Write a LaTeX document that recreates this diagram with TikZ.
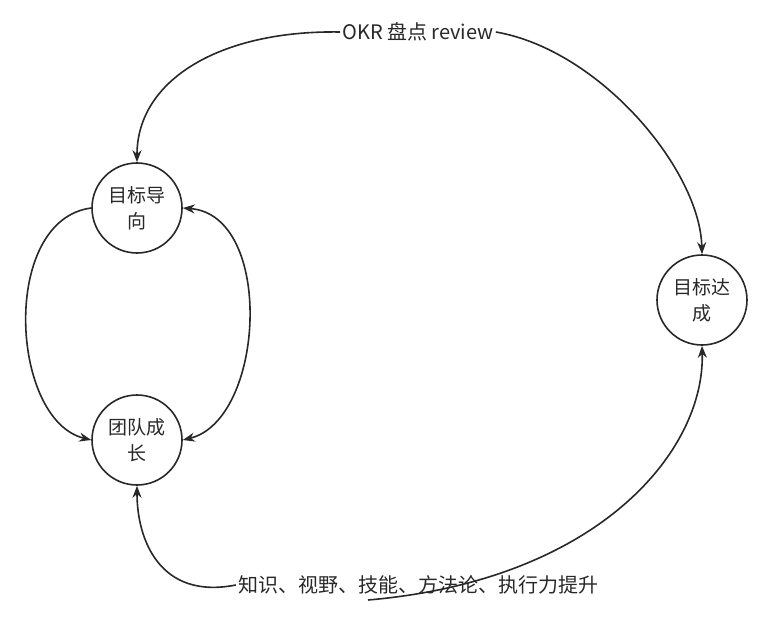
\documentclass[tikz,border=0pt]{standalone}
\usepackage{fontspec}
\setmainfont{Noto Sans CJK SC}
\usetikzlibrary{arrows.meta}
\definecolor{ink}{RGB}{40,40,40}
\begin{document}
\begin{tikzpicture}[x=1pt,y=-1pt,
  circ/.style={circle,draw=ink,line width=1.6pt,minimum size=90pt,inner sep=0pt,align=center,font=\fontsize{19}{26}\selectfont,text=ink},
  lab/.style={font=\fontsize{20}{24}\selectfont,inner sep=2pt,text=ink},
  arr/.style={draw=ink,line width=1.6pt,-{Stealth[length=12pt,width=9pt]}},
  darr/.style={draw=ink,line width=1.6pt,{Stealth[length=12pt,width=9pt]}-{Stealth[length=12pt,width=9pt]}}]
\useasboundingbox (0,0) rectangle (771,623);
\node[circ] (g) at (137,208) {目标导\\向};
\node[circ] (t) at (137,440) {团队成\\长};
\node[circ] (d) at (702,300) {目标达\\成};
\node[lab] (okr) at (418,32) {OKR 盘点 review};
\node[lab] (sk) at (418,585) {知识、视野、技能、方法论、执行力提升};
\coordinate (sk2) at (368,600);
\draw[arr] (okr.west) .. controls (220,30) and (137,80) .. (g.north);
\draw[arr] (okr.east) .. controls (600,50) and (700,170) .. (d.north);
\draw[arr] (sk.west) .. controls (160,600) and (137,540) .. (t.south);
\draw[arr] (sk2) .. controls (600,580) and (705,450) .. (d.south);
\draw[arr] (g.west) .. controls (0,220) and (10,420) .. (t.west);
\draw[darr] (g.east) .. controls (275,215) and (265,420) .. (t.east);
\end{tikzpicture}
\end{document}
